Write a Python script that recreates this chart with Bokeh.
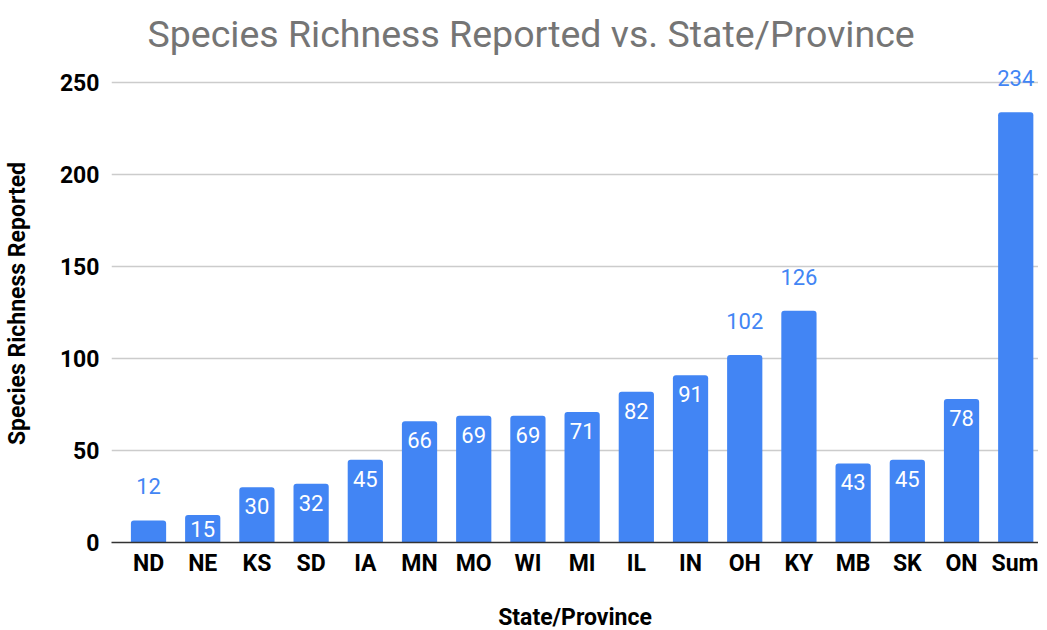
import numpy as np
from bokeh.plotting import figure
from bokeh.models import FixedTicker, ColumnDataSource, Range1d, Title
from bokeh.core.properties import value
from bokeh.embed import file_html
from bokeh.resources import INLINE

categories = ["ND", "NE", "KS", "SD", "IA", "MN", "MO", "WI", "MI", "IL", "IN", "OH", "KY", "MB", "SK", "ON", "Sum"]
richness = [12, 15, 30, 32, 45, 66, 69, 69, 71, 82, 91, 102, 126, 43, 45, 78, 234]
label_outside = [True, False, False, False, False, False, False, False, False, False, False, True, True, False, False, False, True]
y_ticks = [0, 50, 100, 150, 200, 250]

BLUE = "#4285F4"
FONT = "Roboto"
Y_END = 260
FRAME_H = 478
FRAME_W = 927
PX_PER_UNIT = FRAME_H / Y_END

xs = np.arange(len(categories))
src = ColumnDataSource(dict(x=xs, y=richness))
ins_idx = [i for i, o in enumerate(label_outside) if not o]
out_idx = [i for i, o in enumerate(label_outside) if o]
ins = ColumnDataSource(dict(x=[xs[i] for i in ins_idx], y=[richness[i] for i in ins_idx],
                            lab=[str(richness[i]) for i in ins_idx],
                            off=[min(19.0, richness[i] * PX_PER_UNIT / 2) for i in ins_idx]))
outs = ColumnDataSource(dict(x=[xs[i] for i in out_idx], y=[richness[i] for i in out_idx],
                             lab=[str(richness[i]) for i in out_idx]))

p = figure(frame_width=FRAME_W, frame_height=FRAME_H, output_backend="svg", toolbar_location=None,
           x_range=Range1d(-0.683, 16.42), y_range=Range1d(0, Y_END),
           min_border_left=104, min_border_right=0, min_border_top=64, min_border_bottom=94)
p.outline_line_color = None

p.title = Title(text="Species Richness Reported vs. State/Province", align="left", offset=36,
                text_font=FONT, text_font_size="37.5px", text_font_style="normal",
                text_color="#757575", standoff=18, text_line_height=1.5)

p.vbar(x="x", top="y", width=0.65, source=src, fill_color=BLUE, line_color=None,
       border_radius=(3, 3, 0, 0))

p.text(x="x", y="y", text="lab", source=ins, text_color="white", text_align="center",
       text_baseline="middle", y_offset="off", text_font=value(FONT), text_font_size="22px")
p.text(x="x", y="y", text="lab", source=outs, text_color=BLUE, text_align="center",
       text_baseline="middle", y_offset=-34, text_font=value(FONT), text_font_size="22px")

for ax in (p.xaxis, p.yaxis):
    ax.major_tick_line_color = None
    ax.minor_tick_line_color = None
    ax.major_tick_out = 0
    ax.major_tick_in = 0
    ax.minor_tick_out = 0
    ax.minor_tick_in = 0
    ax.major_label_text_font = FONT
    ax.major_label_text_font_style = "bold"
    ax.major_label_text_font_size = "23px"
    ax.major_label_text_color = "#000000"
    ax.axis_label_text_font = FONT
    ax.axis_label_text_font_style = "bold"
    ax.axis_label_text_font_size = "23px"
    ax.axis_label_text_color = "#000000"

p.xaxis.ticker = FixedTicker(ticks=list(xs))
p.xaxis.major_label_overrides = {int(i): c for i, c in zip(xs, categories)}
p.xaxis.axis_line_color = "#333333"
p.xaxis.axis_line_width = 1.5
p.xaxis.major_label_standoff = 7
p.xaxis.axis_label = "State/Province"
p.xaxis.axis_label_standoff = 24

p.yaxis.ticker = FixedTicker(ticks=y_ticks)
p.yaxis.axis_line_color = None
p.yaxis.major_label_standoff = 12
p.yaxis.axis_label = "Species Richness Reported"
p.yaxis.axis_label_standoff = 26

p.xgrid.grid_line_color = None
p.ygrid.grid_line_color = "#cccccc"
p.ygrid.grid_line_width = 1.5

open("out.html", "w").write(file_html(p, INLINE))
